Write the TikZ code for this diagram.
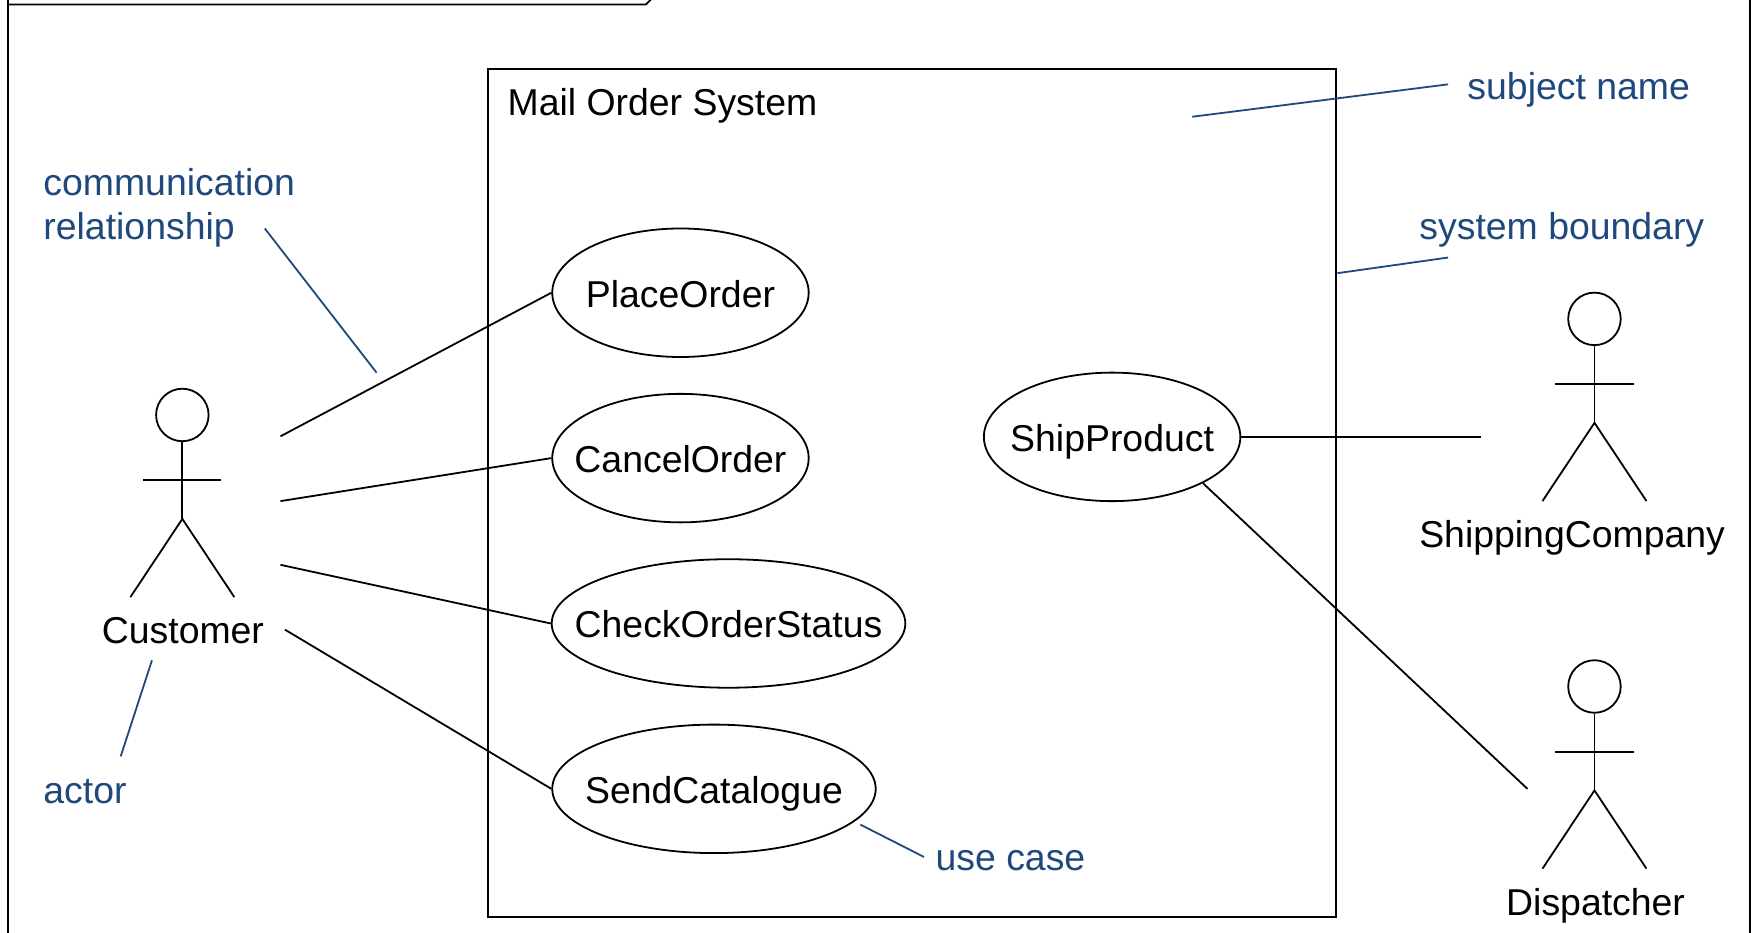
\documentclass[tikz,border=0pt]{standalone}
\usepackage{fontspec}
\setmainfont{Liberation Sans}
\usetikzlibrary{shapes.geometric}
\definecolor{noteblue}{HTML}{1F497D}
\newlength{\pxu}\setlength{\pxu}{0.55865pt}
\newcommand{\casetext}[1]{\makebox[0pt]{#1}}
\tikzset{
  line/.style={draw=black,line width=0.9pt},
  usecase/.style={ellipse,line,minimum height=115\pxu,inner sep=0pt,text height=14.5pt,text depth=0pt,font=\fontsize{18.7}{22}\selectfont},
  label/.style={font=\fontsize{18.7}{22}\selectfont,text=black,inner sep=0pt},
  note/.style={font=\fontsize{18.7}{22.4}\selectfont,text=noteblue,inner sep=0pt,align=left},
  leader/.style={draw=noteblue,line width=0.9pt},
  head/.style={circle,line,minimum size=47\pxu,inner sep=0pt},
}
\newcommand{\stick}[2]{%
  \node[head] (#1head) at (#2) {};
  \coordinate (#1hip) at ([yshift=-93\pxu]#1head.center);
  \coordinate (#1neck) at ([yshift=-58.5\pxu]#1head.center);
  \draw[line] (#1head.south) -- (#1hip);
  \draw[line] ([xshift=-35\pxu]#1neck) -- ([xshift=35\pxu]#1neck);
  \draw[line] ([shift={(-46.5\pxu,-70\pxu)}]#1hip) -- (#1hip) -- ([shift={(46.5\pxu,-70\pxu)}]#1hip);
}
\begin{document}
\begin{tikzpicture}[x=0.55865pt,y=-0.55865pt]
\useasboundingbox (0,0) rectangle (1568,835);
\clip (0,0) rectangle (1568,835);
\fill[white] (0,0) rectangle (1568,835);
% outer frame
\coordinate (fa) at (7.5,0);
\coordinate (fb) at (7.5,835);
\coordinate (fc) at (1566,0);
\coordinate (fd) at (1566,835);
\coordinate (ta) at (7.5,4);
\coordinate (tb) at (578,4);
\coordinate (tc) at (586,-4);
\draw[line] (fa) -- (fb);
\draw[line] (fc) -- (fd);
\draw[line] (ta) -- (tb) -- (tc);
% subject
\node[draw=black,line width=0.9pt,minimum width=759\pxu,minimum height=759\pxu,inner sep=0pt] (subject) at (816.5,441.5) {};
\node[label,anchor=west] (subjname) at (454,94.5) {Mail Order System};
% use cases
\node[usecase,minimum width=229.5\pxu] (place) at (609,262) {\casetext{PlaceOrder}};
\node[usecase,minimum width=229.5\pxu] (cancel) at (609,410) {\casetext{CancelOrder}};
\node[usecase,minimum width=316.5\pxu] (check) at (652,558) {\casetext{CheckOrderStatus}};
\node[usecase,minimum width=289.5\pxu] (send) at (639,706) {\casetext{SendCatalogue}};
\node[usecase,minimum width=229.5\pxu] (ship) at (995.3,391) {\casetext{ShipProduct}};
% actors
\stick{cust}{163.2,371.4}
\node[label] (custl) at (163.7,564) {Customer};
\stick{comp}{1427,285.4}
\node[label] (compl) at (1407,481) {ShippingCompany};
\stick{disp}{1427,614.4}
\node[label] (displ) at (1428,810.5) {Dispatcher};
% communication lines
\coordinate (c1) at (251,390.5);
\coordinate (c2) at (251,448.5);
\coordinate (c3) at (251,505.5);
\coordinate (c4) at (255,563.5);
\coordinate (s1) at (1325,391);
\coordinate (s2) at (1367,706);
\draw[line] (c1) -- (place.west);
\draw[line] (c2) -- (cancel.west);
\draw[line] (c3) -- (check.west);
\draw[line] (c4) -- (send.west);
\draw[line] (ship.east) -- (s1);
\draw[line] (ship.-27) -- (s2);
% notes
\node[note,anchor=west] (nsub) at (1313,80.5) {subject name};
\node[note,anchor=west] (nsys) at (1270,205.5) {system boundary};
\node[note,anchor=north west] (ncom) at (38.5,150) {communication\\relationship};
\node[note,anchor=west] (nact) at (38.5,708.5) {actor};
\node[note,anchor=west] (nuse) at (837,770.5) {use case};
\coordinate (l1a) at (1067,104.5); \coordinate (l1b) at (1296,75.5);
\coordinate (l2a) at (1197,244.5); \coordinate (l2b) at (1296,230.5);
\coordinate (l3a) at (237,204.5);  \coordinate (l3b) at (337,333.5);
\coordinate (l4a) at (136,591);  \coordinate (l4b) at (108,677);
\coordinate (l5a) at (770,738);  \coordinate (l5b) at (827,767);
\draw[leader] (l1a) -- (l1b);
\draw[leader] (l2a) -- (l2b);
\draw[leader] (l3a) -- (l3b);
\draw[leader] (l4a) -- (l4b);
\draw[leader] (l5a) -- (l5b);
\end{tikzpicture}
\end{document}
